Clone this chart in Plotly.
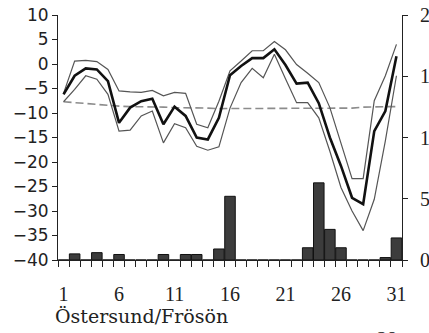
import plotly.graph_objects as go

# January daily temperatures (°C) and precipitation (mm), Östersund/Frösön
days = list(range(1, 32))
t_mean = [-6.2, -2.4, -0.9, -1.1, -3.5, -12.0, -8.9, -7.6, -7.1, -12.3,
          -8.7, -10.6, -15.0, -15.4, -11.0, -2.3, -0.4, 1.2, 1.2, 3.0,
          -0.2, -4.0, -3.8, -8.0, -15.0, -20.8, -27.3, -28.6, -13.7, -9.6, 1.6]
t_max = [-6.0, 0.6, 0.75, 0.5, -1.1, -5.5, -5.7, -5.8, -5.4, -6.5,
         -5.8, -6.0, -12.3, -13.0, -7.6, -1.4, 0.6, 2.7, 2.7, 4.6,
         2.9, -0.1, -1.9, -3.8, -8.9, -16.4, -23.4, -23.4, -7.5, -2.4, 4.0]
t_min = [-7.7, -5.2, -2.4, -3.1, -6.2, -13.7, -13.5, -10.6, -9.6, -16.1,
         -12.2, -13.0, -16.8, -17.6, -16.9, -9.0, -3.8, -0.9, -2.8, 2.0,
         -3.0, -7.9, -7.9, -11.0, -17.8, -25.2, -30.0, -34.0, -27.6, -15.7, -2.4]
t_normal = [-7.7, -7.9, -8.1, -8.3, -8.5, -8.6, -8.7, -8.7, -8.8, -8.8,
            -8.9, -8.9, -9.0, -9.0, -9.1, -9.1, -9.1, -9.1, -9.1, -9.1,
            -9.1, -9.1, -9.1, -9.1, -9.1, -9.1, -9.0, -8.8, -8.7, -8.7, -8.7]
precip = [0, 0.5, 0, 0.6, 0, 0.45, 0, 0, 0, 0.45,
          0, 0.45, 0.45, 0, 0.9, 5.2, 0, 0, 0, 0,
          0, 0, 1.0, 6.3, 2.5, 1.0, 0, 0, 0, 0.2, 1.8]

temp_ticks = list(range(-40, 11, 5))
precip_ticks = [0, 5, 10, 15, 20]
day_labels = [1, 6, 11, 16, 21, 26, 31]
station = "Östersund/Frösön"

fig = go.Figure()

fig.add_trace(go.Scatter(x=days, y=t_normal, mode="lines",
                         line=dict(color="#8c8c8c", width=1.6, dash="8px,4px")))
fig.add_trace(go.Scatter(x=days, y=t_max, mode="lines",
                         line=dict(color="#555555", width=1.2)))
fig.add_trace(go.Scatter(x=days, y=t_min, mode="lines",
                         line=dict(color="#555555", width=1.2)))
fig.add_trace(go.Scatter(x=days, y=t_mean, mode="lines",
                         line=dict(color="#111111", width=2.6)))
fig.add_trace(go.Bar(x=days, y=precip, yaxis="y2", width=0.95,
                     marker=dict(color="#3c3c3c", line=dict(color="#111111", width=1))))

fig.update_layout(
    width=429, height=333,
    margin=dict(l=58, r=27, t=15, b=73),
    plot_bgcolor="white", paper_bgcolor="white",
    showlegend=False,
    xaxis=dict(
        range=[0.5, 31.5], tickmode="array", tickvals=day_labels,
        ticktext=[str(d) for d in day_labels], ticks="",
        ticklabelstandoff=16, automargin=False,
        showline=True, linecolor="#222222", linewidth=1,
        showgrid=False, zeroline=False,
        tickfont=dict(family="Liberation Serif", size=20, color="#222222"),
        minor=dict(tickmode="array", tickvals=[d + 0.5 for d in range(0, 32)],
                   ticks="outside", ticklen=6, tickwidth=1, tickcolor="#222222",
                   showgrid=False),
    ),
    yaxis=dict(
        range=[-40, 10], tickmode="array", tickvals=temp_ticks,
        ticks="outside", ticklen=5, tickwidth=1, tickcolor="#222222",
        showline=True, linecolor="#222222", linewidth=1,
        showgrid=False, zeroline=False, automargin=False,
        tickfont=dict(family="DejaVu Sans", size=17, color="#222222"),
    ),
    yaxis2=dict(
        range=[0, 20], overlaying="y", side="right", tickmode="array",
        tickvals=precip_ticks, ticks="outside", ticklen=5, tickwidth=1,
        tickcolor="#222222", showline=True, linecolor="#222222", linewidth=1,
        showgrid=False, zeroline=False, automargin=False,
        ticklabelstandoff=8,
        tickfont=dict(family="Liberation Serif", size=20, color="#222222"),
    ),
    annotations=[
        dict(text=station, xref="paper", yref="paper", x=-0.015, y=-0.23,
             xanchor="left", yanchor="middle", showarrow=False,
             font=dict(family="DejaVu Serif", size=19, color="#222222")),
        dict(text="28", xref="paper", yref="paper", x=0.955, y=-0.27,
             xanchor="center", yanchor="top", showarrow=False,
             font=dict(family="Liberation Serif", size=20, color="#222222")),
    ],
)

fig.write_html("out.html")
